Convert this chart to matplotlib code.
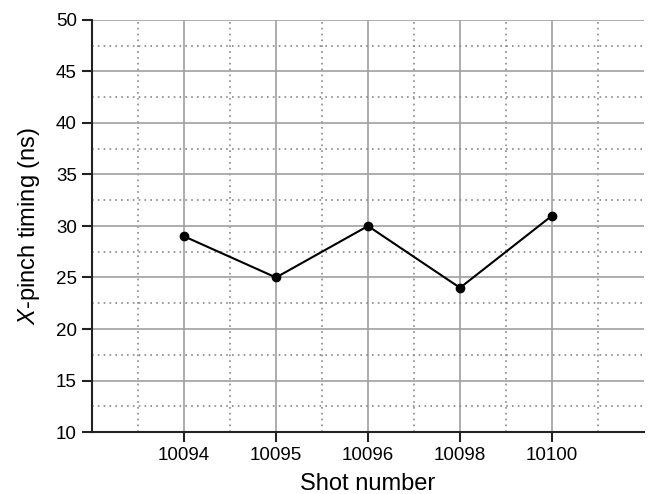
import matplotlib
matplotlib.use("Agg")
import matplotlib.pyplot as plt
from matplotlib.ticker import MultipleLocator, FixedLocator

shots = ["10094", "10095", "10096", "10098", "10100"]
timing = [29, 25, 30, 24, 31]

plt.rcParams['font.family'] = ['Liberation Sans', 'DejaVu Sans']
plt.rcParams['mathtext.fontset'] = 'custom'
plt.rcParams['mathtext.it'] = 'Liberation Sans:italic'
plt.rcParams['mathtext.rm'] = 'Liberation Sans'

fig = plt.figure(figsize=(6.49, 4.94), dpi=100)
ax = fig.add_axes([92/649, 1-432/494, (644-92)/649, (432-20)/494])

x = list(range(len(shots)))
ax.plot(x, timing, color='black', lw=1.5, marker='o', ms=6, zorder=5, clip_on=False)

ax.set_xlim(-1, len(shots))
ax.set_ylim(10, 50)
ax.set_xticks(x)
ax.set_xticklabels(shots)
ax.xaxis.set_minor_locator(FixedLocator([i - 0.5 for i in range(len(shots) + 1)]))
ax.yaxis.set_major_locator(MultipleLocator(5))
ax.yaxis.set_minor_locator(MultipleLocator(2.5))

ax.grid(which='major', color='#a0a0a0', lw=1.2, ls='-')
ax.grid(which='minor', color='#888888', lw=1.2, ls=(0, (1, 2.5)))
ax.set_axisbelow(True)

for s in ['top', 'right']:
    ax.spines[s].set_visible(False)
for s in ['left', 'bottom']:
    ax.spines[s].set_linewidth(1.5)
    ax.spines[s].set_color('#222222')

ax.tick_params(which='major', direction='out', length=7, width=1.5, labelsize=13.5, color='#222222', pad=4)
ax.tick_params(which='minor', length=0)

ax.set_xlabel("Shot number", fontsize=17, labelpad=6)
ax.set_ylabel("$X$-pinch timing (ns)", fontsize=17, labelpad=10)

fig.savefig("out.png", dpi=100)
